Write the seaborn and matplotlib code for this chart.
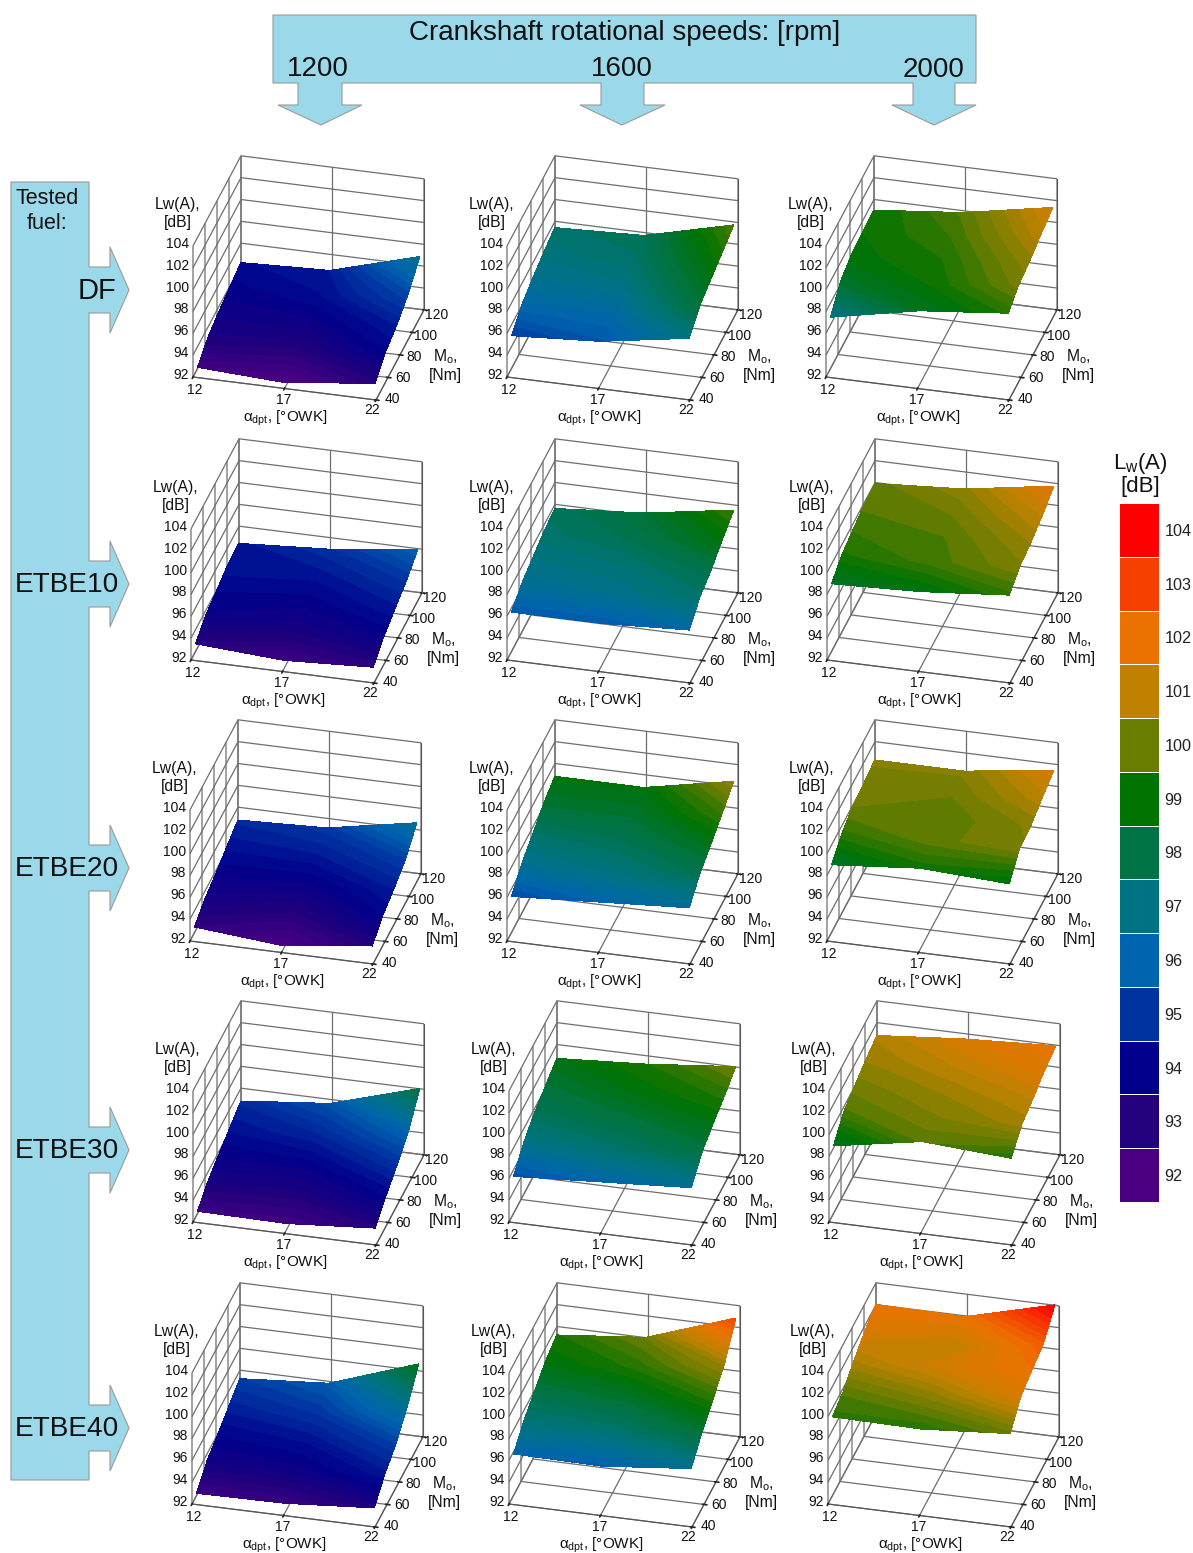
import numpy as np
import matplotlib

matplotlib.use('Agg')
import matplotlib.pyplot as plt
from matplotlib.patches import Polygon
from mpl_toolkits.mplot3d import proj3d
import seaborn as sns

FUELS = ["DF", "ETBE10", "ETBE20", "ETBE30", "ETBE40"]
SPEEDS = ["1200", "1600", "2000"]
ALPHA_TICKS = [12, 17, 22]
TORQUE_TICKS = [40, 60, 80, 100, 120]
TORQUE_GRID = [46, 64, 82, 101, 120]
LW_TICKS = [92, 94, 96, 98, 100, 102, 104]
LEGEND_LEVELS = [104, 103, 102, 101, 100, 99, 98, 97, 96, 95, 94, 93, 92]

# colour of each 1 dB step, 92 up to 104
LEVEL_COLORS = ["#4b0082", "#23007d", "#00008c", "#0032a0", "#0064af", "#007382", "#007346",
                "#007300", "#697d00", "#be8200", "#eb7300", "#f54100", "#ff0000"]

# rows follow TORQUE_GRID; columns: alpha = 12, 17, 22
DF_1200 = [[92.3, 91.9, 92.9], [93.2, 92.9, 94.0], [93.6, 93.6, 94.5], [93.9, 94.2, 95.4], [94.2, 94.5, 96.8]]
DF_1600 = [[95.2, 95.7, 97.0], [96.2, 96.2, 98.2], [96.7, 96.9, 98.7], [97.1, 97.4, 99.2], [97.4, 97.7, 99.7]]
DF_2000 = [[96.9, 98.5, 99.3], [98.4, 99.0, 100.1], [98.9, 99.2, 100.4], [99.0, 99.5, 100.9], [99.0, 99.8, 101.3]]
E10_1200 = [[92.9, 92.4, 92.8], [93.7, 93.3, 93.8], [94.0, 93.8, 94.4], [94.4, 94.3, 95.0], [94.4, 94.9, 95.9]]
E10_1600 = [[95.8, 95.8, 96.2], [96.6, 96.8, 97.4], [97.0, 97.2, 97.9], [97.4, 97.8, 98.8], [97.6, 98.2, 99.5]]
E10_2000 = [[98.4, 98.7, 99.4], [99.2, 99.6, 100.2], [99.5, 99.7, 100.5], [99.8, 100.0, 101.0], [99.9, 100.4, 101.7]]
E20_1200 = [[92.7, 92.0, 93.0], [93.4, 92.9, 94.0], [93.8, 93.6, 94.5], [94.3, 94.4, 95.2], [94.8, 95.1, 96.6]]
E20_1600 = [[95.5, 96.0, 96.5], [96.7, 97.1, 97.8], [97.4, 97.7, 98.6], [98.3, 98.3, 99.5], [98.8, 98.8, 100.4]]
E20_2000 = [[98.4, 99.1, 98.7], [99.4, 99.9, 100.2], [100.0, 99.8, 100.3], [100.1, 100.0, 100.9], [100.3, 100.3, 101.4]]
E30_1200 = [[92.4, 92.3, 92.9], [93.3, 93.1, 94.0], [93.8, 93.8, 94.9], [94.3, 94.7, 96.0], [94.8, 95.6, 98.0]]
E30_1600 = [[95.6, 96.1, 96.6], [96.9, 97.4, 98.0], [97.7, 98.1, 98.7], [98.2, 98.8, 99.3], [98.7, 99.2, 100.0]]
E30_2000 = [[98.4, 99.8, 99.3], [99.7, 100.2, 100.6], [100.1, 100.5, 101.0], [100.5, 101.0, 101.6], [100.8, 101.5, 101.9]]
E40_1200 = [[92.4, 92.5, 93.1], [93.5, 93.6, 94.4], [94.0, 94.2, 95.2], [94.6, 95.0, 96.7], [95.2, 95.8, 98.6]]
E40_1600 = [[96.0, 95.9, 96.7], [97.2, 97.3, 98.2], [98.0, 98.3, 99.3], [98.8, 99.3, 100.5], [99.2, 100.0, 102.8]]
E40_2000 = [[99.4, 99.3, 99.9], [99.8, 100.3, 101.5], [100.7, 101.4, 102.0], [101.5, 101.0, 102.4], [102.0, 101.9, 104.0]]
SURFACES = [[DF_1200, DF_1600, DF_2000], [E10_1200, E10_1600, E10_2000], [E20_1200, E20_1600, E20_2000],
            [E30_1200, E30_1600, E30_2000], [E40_1200, E40_1600, E40_2000]]

# pixel position of the front left floor corner of each panel
ORIGIN_X = [[193, 507, 826], [191, 507, 827], [190, 507, 827], [193, 509, 829], [192, 509, 828]]
ORIGIN_Y = [377, 660, 941, 1222, 1504]

W, H = 1193, 1553
BLUE = "#9bd9ea"
AXES_PX = 460

sns.set_theme(style="white")
plt.rcParams['font.family'] = ['Liberation Sans', 'DejaVu Sans']
plt.rcParams['mathtext.fontset'] = 'custom'
plt.rcParams['mathtext.rm'] = 'Liberation Sans'
plt.rcParams['text.color'] = '#111111'

cmap = sns.blend_palette(LEVEL_COLORS, n_colors=256, as_cmap=True)
levels = np.arange(91.5, 105.01, 0.25)

fig = plt.figure(figsize=(W / 100, H / 100), dpi=100, facecolor='white')

over = fig.add_axes([0, 0, 1, 1], zorder=10)
over.set_xlim(0, W)
over.set_ylim(H, 0)
over.axis('off')
over.patch.set_alpha(0)


def to_px(ax, x, y, z):
    x2, y2, _ = proj3d.proj_transform(np.ravel(x), np.ravel(y), np.ravel(z), ax.get_proj())
    d = ax.transData.transform(np.column_stack([x2, y2]))
    return d[:, 0], H - d[:, 1]


def make_panel(fx, fy):
    ax = fig.add_axes([0, 0, AXES_PX / W, AXES_PX / H], projection='3d', proj_type='ortho', zorder=1)
    ax.patch.set_alpha(0)
    ax.set_xlim(12, 22, view_margin=0)
    ax.set_ylim(40, 120, view_margin=0)
    ax.set_zlim(92, 104, view_margin=0)
    ax.set_xticks(ALPHA_TICKS)
    ax.set_yticks(TORQUE_TICKS)
    ax.set_zticks(LW_TICKS)
    ax.set_xticklabels([])
    ax.set_yticklabels([])
    ax.set_zticklabels([])
    ax.view_init(elev=29.05, azim=-75.5)
    box = (189, 191.7, 149.9)
    ax.set_box_aspect(box, zoom=1)
    ax.apply_aspect()
    px, py = to_px(ax, np.array([12, 22.]), np.array([40, 40.]), np.array([92, 92.]))
    ax.set_box_aspect(box, zoom=183 / (px[1] - px[0]))
    for axis in (ax.xaxis, ax.yaxis, ax.zaxis):
        axis.set_pane_color((1, 1, 1, 0))
        axis.pane.set_edgecolor('none')
        axis.line.set_color('#555555')
        axis.line.set_linewidth(0.8)
        axis._axinfo['grid']['color'] = '#6e6e6e'
        axis._axinfo['grid']['linewidth'] = 0.9
        axis._axinfo['tick']['color'] = '#555555'
    # no tick marks on the right hand vertical edge
    ax.zaxis._axinfo['tick']['inward_factor'] = 0
    ax.zaxis._axinfo['tick']['outward_factor'] = 0
    ax.grid(True)
    # slide the axes so the floor corner lands where it should
    px, py = to_px(ax, np.array([12.]), np.array([40.]), np.array([92.]))
    ax.set_position([(fx - px[0]) / W, (py[0] - fy) / H, AXES_PX / W, AXES_PX / H])
    ax.apply_aspect()
    return ax


alpha_front = np.array([12.07, 16.9, 21.75])
alpha_back = np.array([12.0, 16.85, 21.75])
torque = np.array(TORQUE_GRID, dtype=float)

for r in range(5):
    for c in range(3):
        fx = ORIGIN_X[r][c]
        fy = ORIGIN_Y[r]
        ax = make_panel(fx, fy)

        Z = np.array(SURFACES[r][c])
        Y = np.repeat(torque[:, None], 3, axis=1)
        t = (Y - 46) / 74
        X = alpha_front + (alpha_back - alpha_front) * t
        sx, sy = to_px(ax, X, Y, Z)
        cs = over.contourf(sx.reshape(Z.shape), sy.reshape(Z.shape), Z, levels=levels, cmap=cmap, vmin=92, vmax=104)
        cs.set_edgecolor('face')
        cs.set_linewidth(0.4)

        # tick labels sit at a fixed offset from their tick
        for v in LW_TICKS:
            tx, ty = to_px(ax, np.array([12.]), np.array([40.]), np.array([float(v)]))
            over.text(tx[0] - 4, ty[0] - 2, str(v), ha='right', va='center', fontsize=10)
        for v in ALPHA_TICKS:
            tx, ty = to_px(ax, np.array([float(v)]), np.array([40.]), np.array([92.]))
            over.text(tx[0] - (v - 12) * 0.6 + 2, ty[0] + 13 - 0.3 * (v - 12), str(v), ha='center', va='center', fontsize=10)
        for v in TORQUE_TICKS:
            tx, ty = to_px(ax, np.array([22.]), np.array([float(v)]), np.array([92.]))
            k = (v - 40) / 80
            over.text(tx[0] + 16 - 3 * k, ty[0] - 1 + 6 * k, str(v), ha='center', va='center', fontsize=10)

        over.text(fx - 15, fy - 163.5, "Lw(A),\n[dB]", ha='center', va='center', fontsize=11.3, linespacing=1.3)
        over.text(fx + 252, fy - 12, "M$_{\\mathregular{o}}$,\n[Nm]", ha='center', va='center', fontsize=11.3, linespacing=1.15)
        over.text(fx + 92, fy + 41, "$\\mathregular{\\alpha_{dpt}}$, [°OWK]", ha='center', va='center', fontsize=11)

# blue banner on top with its three arrows
stems = [(298, 342, 278, 362, 321), (601, 644, 580, 665, 622), (913, 955, 892, 976, 934)]
top = [(273, 15), (976, 15), (976, 83)]
for s0, s1, h0, h1, tip in stems[::-1]:
    top += [(s1, 83), (s1, 105), (h1, 105), (tip, 125), (h0, 105), (s0, 105), (s0, 83)]
top += [(273, 83)]
over.add_patch(Polygon(top, closed=True, facecolor=BLUE, edgecolor='#9a9a9a', linewidth=0.8))

# blue banner on the left with one arrow per fuel
arrow_y = [290, 584, 868, 1150, 1428]
left = [(11, 182), (89, 182)]
for y in arrow_y:
    left += [(89, y - 23), (110, y - 23), (110, y - 43), (129, y), (110, y + 43), (110, y + 23), (89, y + 23)]
left += [(89, 1480), (11, 1480)]
over.add_patch(Polygon(left, closed=True, facecolor=BLUE, edgecolor='#9a9a9a', linewidth=0.8))

over.text(625, 33, "Crankshaft rotational speeds: [rpm]", ha='center', va='center', fontsize=20)
for x, y, label in zip([318, 622, 934], [69, 69, 70], SPEEDS):
    over.text(x, y, label, ha='center', va='center', fontsize=20)
over.text(47, 211, "Tested\nfuel:", ha='center', va='center', fontsize=15.5, linespacing=1.2)
for x, y, label, size in zip([97, 67, 67, 67, 67], arrow_y, FUELS, [21, 20.2, 20.2, 20.2, 20.2]):
    over.text(x, y + 1, label, ha='center', va='center', fontsize=size)

# colour legend
leg = fig.add_axes([1119 / W, 1 - 1202 / H, 40 / W, 699 / H], zorder=5)
sns.heatmap(np.array(LEGEND_LEVELS)[:, None], ax=leg, cmap=cmap, vmin=92, vmax=104, cbar=False,
            linewidths=0.4, linecolor='white', xticklabels=False, yticklabels=LEGEND_LEVELS)
leg.yaxis.tick_right()
leg.tick_params(axis='y', length=0, pad=4, labelrotation=0, labelsize=11.7, labelcolor='#222222')
over.text(1140, 474, "L$_{\\mathregular{w}}$(A)\n[dB]", ha='center', va='center', fontsize=16, linespacing=1.0)

fig.savefig("out.png", dpi=100)
